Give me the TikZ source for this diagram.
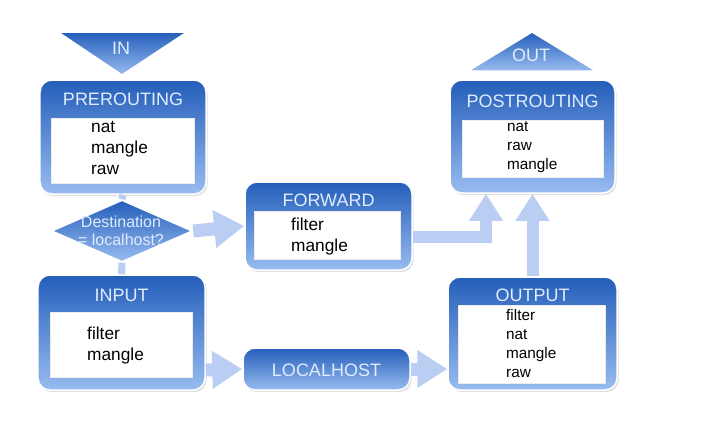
\documentclass[tikz,border=0pt]{standalone}
\usepackage{fontspec}
\setmainfont{Liberation Sans}
\usetikzlibrary{arrows.meta,shapes.geometric,shadows}
\definecolor{boxtop}{RGB}{36,94,186}
\definecolor{boxbot}{RGB}{152,188,240}
\definecolor{titlec}{RGB}{224,236,252}
\definecolor{arrowc}{RGB}{186,205,242}
\begin{document}
\begin{tikzpicture}[x=1bp,y=-1bp,
  box/.style={draw=white, line width=1.5bp, rounded corners=12bp, top color=boxtop, bottom color=boxbot,
    drop shadow={opacity=0.25,shadow xshift=1.5bp,shadow yshift=-2bp}, inner sep=0},
  inbox/.style={fill=white, draw=white!85!gray, line width=0.4bp, inner sep=0},
  ttl/.style={text=titlec, font={\fontsize{18bp}{20bp}\selectfont}, inner sep=0},
  bigitems/.style={anchor=west, align=left, inner sep=0, text=black, font={\fontsize{17.3bp}{21bp}\selectfont}},
  smallitems/.style={anchor=west, align=left, inner sep=0, text=black, font={\fontsize{15.3bp}{19bp}\selectfont}},
  tri/.style={draw=white, line width=1.5bp, top color=boxtop, bottom color=boxbot},
  fat/.style={draw=arrowc, line width=13bp, -{Triangle[width=36bp,length=30bp]}},
  fatv/.style={draw=arrowc, line width=12bp, -{Triangle[width=32bp,length=27bp]}},
  stub/.style={draw=arrowc, line width=7bp}
]
\useasboundingbox (0,0) rectangle (703,420);
\fill[white] (0,0) rectangle (703,420);

% IN triangle
\path[tri] (58,32) -- (187,32) -- (122,75) -- cycle;
\node[ttl] (in) at (121,48) {IN};

% OUT triangle
\path[tri] (468,71) -- (596,71) -- (532,32) -- cycle;
\node[ttl] (out) at (531,55) {OUT};

% PREROUTING
\node[box, minimum width=166bp, minimum height=114bp] (pre) at (123,137) {};
\node[inbox, minimum width=143bp, minimum height=65bp] (prew) at (122.5,150.5) {};
\node[ttl] (pret) at (123,99) {PREROUTING};
\node[bigitems] (prei) at (91,148) {nat\\mangle\\raw};

% Diamond
\node[diamond, draw=white, line width=1.5bp, top color=boxtop, bottom color=boxbot,
  minimum width=141bp, minimum height=62bp, inner sep=0, aspect=2.27] (dia) at (122,231) {};
\node[text=titlec, align=center, inner sep=0, font={\fontsize{16bp}{18bp}\selectfont}] (diat) at (121,231) {Destination\\= localhost?};

% INPUT
\node[box, minimum width=167bp, minimum height=115bp] (inp) at (121.5,332.5) {};
\node[inbox, minimum width=142bp, minimum height=65bp] (inpw) at (121,344.5) {};
\node[ttl] (inpt) at (121.5,295) {INPUT};
\node[bigitems] (inpi) at (87,345.5) {filter\\mangle};

% FORWARD
\node[box, minimum width=167bp, minimum height=88bp] (fwd) at (328.5,226) {};
\node[inbox, minimum width=146bp, minimum height=48bp] (fwdw) at (327,235) {};
\node[ttl] (fwdt) at (328.5,200) {FORWARD};
\node[bigitems] (fwdi) at (291,236.5) {filter\\mangle};

% POSTROUTING
\node[box, minimum width=165bp, minimum height=113bp] (post) at (532.5,136.5) {};
\node[inbox, minimum width=141bp, minimum height=57bp] (postw) at (532.5,148.5) {};
\node[ttl] (postt) at (532.5,101) {POSTROUTING};
\node[smallitems] (posti) at (507,147) {nat\\raw\\mangle};

% OUTPUT
\node[box, minimum width=169bp, minimum height=113bp] (outp) at (532.5,333.5) {};
\node[inbox, minimum width=147bp, minimum height=78bp] (outpw) at (531.5,344) {};
\node[ttl] (outpt) at (532.5,295) {OUTPUT};
\node[smallitems] (outpi) at (506,343.5) {filter\\nat\\mangle\\raw};

% LOCALHOST
\node[box, minimum width=167bp, minimum height=42bp] (loc) at (326.5,369) {};
\node[ttl] (loct) at (326.5,370) {LOCALHOST};

% connectors
\draw[stub] (pre.south) -- (dia.north);
\draw[stub] (dia.south) -- (inp.north);
\draw[fat] (dia.east) -- (fwd.west);
\draw[fat] ([yshift=-1bp]inp.east |- loc.west) -- (loc.west);
\draw[fat] (loc.east) -- (outp.west |- loc.east);
\draw[fatv] ([yshift=-11bp]fwd.east) -| ([xshift=-46.5bp]post.south);
\draw[fatv] (outp.north) -- (post.south);
\end{tikzpicture}
\end{document}
